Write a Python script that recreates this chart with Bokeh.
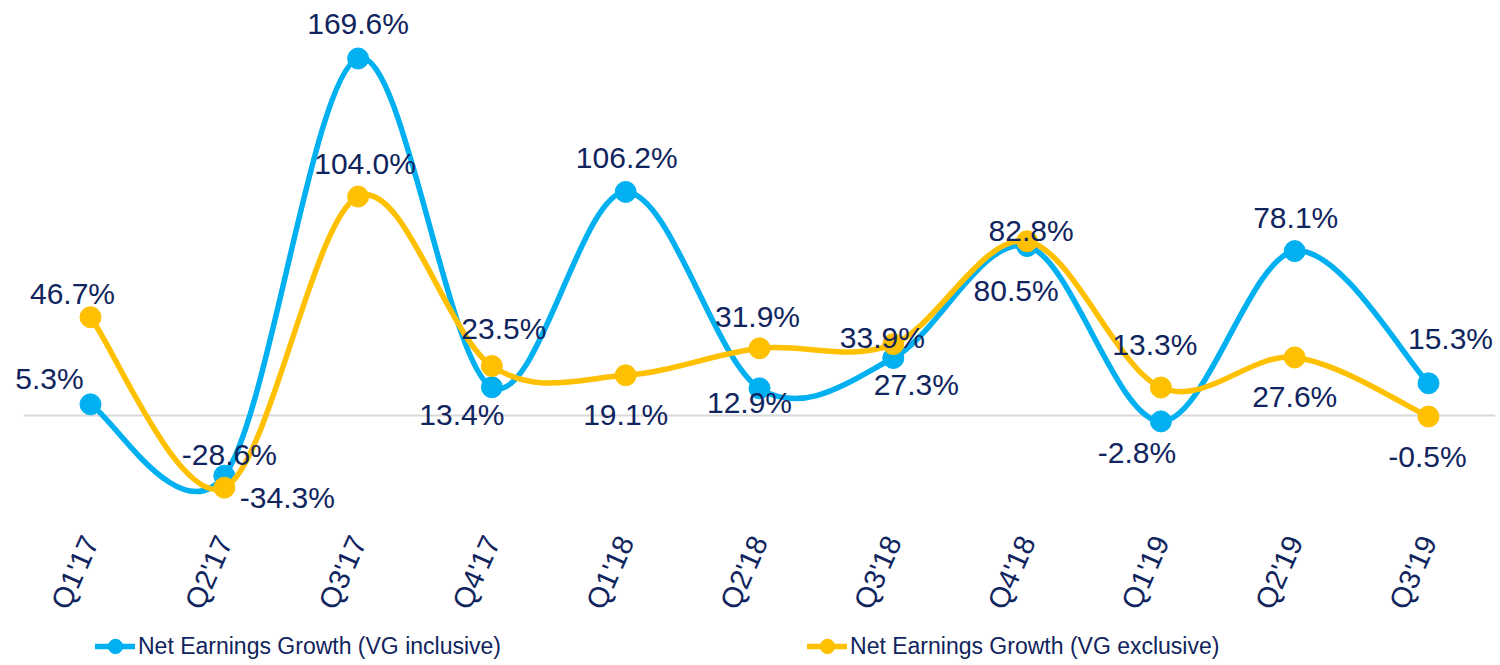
import numpy as np
from bokeh.plotting import figure
from bokeh.layouts import column
from bokeh.models import Range1d, FixedTicker, Legend, LegendItem
from bokeh.core.properties import value
from bokeh.embed import file_html
from bokeh.resources import INLINE

# ---------------- data ----------------
quarters = ["Q1'17", "Q2'17", "Q3'17", "Q4'17", "Q1'18", "Q2'18",
            "Q3'18", "Q4'18", "Q1'19", "Q2'19", "Q3'19"]
vg_inclusive = [5.3, -28.6, 169.6, 13.4, 106.2, 12.9, 27.3, 80.5, -2.8, 78.1, 15.3]
vg_exclusive = [46.7, -34.3, 104.0, 23.5, 19.1, 31.9, 33.9, 82.8, 13.3, 27.6, -0.5]
series_names = ["Net Earnings Growth (VG inclusive)", "Net Earnings Growth (VG exclusive)"]

# ---------------- styling ----------------
BLUE = "#00B0F0"
YELLOW = "#FFC000"
NAVY = "#10245E"
FONT = "Liberation Sans"

# data-label pixel offsets (screen px, y downward)
inc_dx = [-41, 5, 0, -30, 1, -10, 23, -11, -24, 1, 22]
inc_dy = [-26, -21, -35, 27, -34, 14, 26, 44, 31, -34, -45]
exc_dx = [-18, 63, 7, 12, 0, -2, -11, 4, -6, 0, -1]
exc_dy = [-24, 10, -33, -38, 39, -32, -7, -11, -43, 39, 40]

W, H1, H2 = 1496, 624, 40
p = figure(width=W, height=H1, output_backend="svg", toolbar_location=None,
           x_range=Range1d(-0.6353, 10.5007), y_range=Range1d(-52.26, 193.35),
           min_border_left=5, min_border_right=1, min_border_top=8,
           min_border_bottom=99)
p.outline_line_color = None
p.xgrid.visible = False
p.ygrid.visible = False
p.yaxis.visible = False
p.background_fill_color = "white"

n = len(quarters)
xs = np.arange(n, dtype=float)

# category axis baseline (zero line) across the category bands
p.segment(x0=[-0.5], x1=[n - 0.5], y0=[0], y1=[0], line_color="#D9D9D9", line_width=2)


def smooth_segments(x, y):
    m = len(x)
    x0, y0, x1, y1, cx0, cy0, cx1, cy1 = [], [], [], [], [], [], [], []
    for i in range(m - 1):
        a = max(i - 1, 0)
        d = min(i + 2, m - 1)
        x0.append(x[i]); y0.append(y[i]); x1.append(x[i + 1]); y1.append(y[i + 1])
        cx0.append(x[i] + (x[i + 1] - x[a]) / 6.0)
        cy0.append(y[i] + (y[i + 1] - y[a]) / 6.0)
        cx1.append(x[i + 1] - (x[d] - x[i]) / 6.0)
        cy1.append(y[i + 1] - (y[d] - y[i]) / 6.0)
    return dict(x0=x0, y0=y0, x1=x1, y1=y1, cx0=cx0, cy0=cy0, cx1=cx1, cy1=cy1)


LW = 5.5
for vals, color in [(vg_inclusive, BLUE), (vg_exclusive, YELLOW)]:
    y = np.array(vals, dtype=float)
    p.bezier(**smooth_segments(xs, y), line_color=color, line_width=LW, line_cap="round")
    p.scatter(xs, y, size=21, fill_color=color, line_color=color)

for vals, dx, dy in [(vg_inclusive, inc_dx, inc_dy), (vg_exclusive, exc_dx, exc_dy)]:
    for i, v in enumerate(vals):
        p.text(x=[xs[i]], y=[v], text=[f"{v:.1f}%"], x_offset=dx[i], y_offset=dy[i],
               text_font=value(FONT), text_font_size="30px", text_color=NAVY,
               text_align="center", text_baseline="middle")

ax = p.xaxis[0]
ax.ticker = FixedTicker(ticks=list(range(n)))
ax.major_label_overrides = {i: q for i, q in enumerate(quarters)}
ax.major_label_orientation = 1.15
ax.major_label_text_font = FONT
ax.major_label_text_font_size = "29px"
ax.major_label_text_color = NAVY
ax.major_label_text_baseline = "alphabetic"
ax.axis_line_color = None
ax.major_tick_line_color = None
ax.minor_tick_line_color = None
ax.major_tick_out = 0
ax.major_tick_in = 0
ax.major_label_standoff = 12

# ---------------- legend strip ----------------
lg = figure(width=W, height=H2, output_backend="svg", toolbar_location=None,
            x_range=Range1d(0, 1), y_range=Range1d(0, 1),
            x_axis_location=None, y_axis_location=None,
            min_border=0, min_border_left=0, min_border_right=0,
            min_border_top=0, min_border_bottom=0)
lg.outline_line_color = None
lg.xgrid.visible = False
lg.ygrid.visible = False

items = []
for color, name in [(BLUE, series_names[0]), (YELLOW, series_names[1])]:
    ln = lg.line([np.nan, np.nan], [np.nan, np.nan], line_color=color, line_width=LW,
                 line_cap="round")
    mk = lg.scatter([np.nan], [np.nan], size=16, fill_color=color, line_color=color)
    items.append(LegendItem(label=name, renderers=[ln, mk]))

legend = Legend(items=items, orientation="horizontal", location=(90, 0),
                glyph_width=40, glyph_height=36, label_standoff=3, spacing=306,
                padding=0, margin=0, border_line_color=None, background_fill_alpha=0,
                label_text_font=FONT, label_text_font_size="23px",
                label_text_color=NAVY)
lg.add_layout(legend, "center")

layout = column(p, lg, spacing=0)
open("out.html", "w").write(file_html(layout, INLINE))
